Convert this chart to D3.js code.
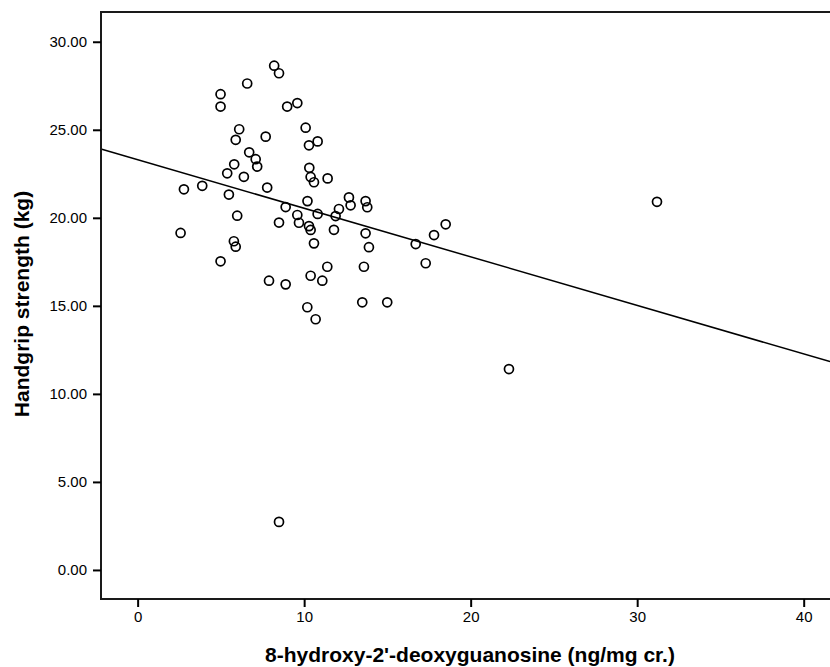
<!DOCTYPE html>
<html>
<head>
<meta charset="utf-8">
<script src="https://cdn.jsdelivr.net/npm/d3@7/dist/d3.min.js"></script>
<style>
  html, body { margin: 0; padding: 0; background: #fff; }
  svg { display: block; }
  text { font-family: "Liberation Sans", Arial, sans-serif; fill: #000; }
</style>
</head>
<body>
<svg id="chart" width="830" height="667"></svg>
<script>
// 8-OHdG (ng/mg cr.) values
const xValues = [
  8.20, 8.49, 6.58, 4.98, 4.98, 8.98, 9.59, 10.09, 6.10, 5.89,
  7.69, 10.81, 10.29, 6.70, 7.09, 7.18, 5.80, 5.38, 6.38, 10.31,
  10.39, 10.59, 11.41, 2.78, 3.88, 5.48, 7.78, 10.20, 12.69, 12.79,
  12.09, 11.89, 11.79, 10.81, 8.89, 9.59, 9.69, 8.49, 10.29, 10.39,
  10.59, 5.98, 2.58, 5.78, 5.89, 4.98, 11.39, 10.39, 11.09, 7.89,
  8.89, 10.19, 10.69, 13.69, 13.79, 13.69, 13.89, 13.59, 13.49, 14.99,
  16.70, 17.80, 18.50, 17.30, 22.30, 8.49, 31.19
];
// Handgrip strength (kg) values
const yValues = [
  28.64, 28.21, 27.63, 27.02, 26.32, 26.32, 26.52, 25.12, 25.03, 24.43,
  24.61, 24.34, 24.12, 23.72, 23.33, 22.91, 23.04, 22.53, 22.33, 22.84,
  22.32, 22.02, 22.24, 21.62, 21.82, 21.32, 21.72, 20.95, 21.16, 20.71,
  20.50, 20.10, 19.32, 20.22, 20.61, 20.16, 19.72, 19.73, 19.53, 19.31,
  18.55, 20.12, 19.14, 18.67, 18.36, 17.53, 17.22, 16.71, 16.43, 16.43,
  16.22, 14.92, 14.24, 20.95, 20.60, 19.12, 18.33, 17.22, 15.20, 15.20,
  18.51, 19.02, 19.63, 17.42, 11.41, 2.73, 20.91
];
const xTicks = [0, 10, 20, 30, 40];
const yTicks = [0, 5, 10, 15, 20, 25, 30];
const xDomain = [-2.2, 41.58];
const yDomain = [-1.65, 31.69];
// fitted linear regression line
const fitIntercept = 23.30;
const fitSlope = -0.2758;
const xTitle = "8-hydroxy-2'-deoxyguanosine (ng/mg cr.)";
const yTitle = "Handgrip strength (kg)";

const points = xValues.map((v, i) => ({ x: v, y: yValues[i] }));

const M = { left: 101, top: 12, right: 830, bottom: 599 };
const svg = d3.select("#chart");

const xs = d3.scaleLinear().domain(xDomain).range([M.left, M.right]);
const ys = d3.scaleLinear().domain(yDomain).range([M.bottom, M.top]);

// regression line
const lineGen = d3.line().x(d => xs(d)).y(d => ys(fitIntercept + fitSlope * d));
svg.append("path")
  .attr("d", lineGen(xDomain))
  .attr("fill", "none")
  .attr("stroke", "#000")
  .attr("stroke-width", 1.5);

// points
svg.append("g").selectAll("circle")
  .data(points)
  .enter().append("circle")
  .attr("cx", d => xs(d.x))
  .attr("cy", d => ys(d.y))
  .attr("r", 4.5)
  .attr("fill", "none")
  .attr("stroke", "#000")
  .attr("stroke-width", 1.7);

// frame (left, top, bottom)
svg.append("path")
  .attr("d", `M${M.right + 2},${M.top} H${M.left} V${M.bottom} H${M.right + 2}`)
  .attr("fill", "none")
  .attr("stroke", "#1a1a1a")
  .attr("stroke-width", 2);

// axes
const xAxis = d3.axisBottom(xs).tickValues(xTicks).tickFormat(d3.format("d")).tickSize(8).tickPadding(4);
const gx = svg.append("g").attr("transform", `translate(0,${M.bottom})`).call(xAxis);
gx.select(".domain").remove();
gx.selectAll(".tick line").attr("stroke", "#000").attr("stroke-width", 2);
gx.selectAll(".tick text").attr("font-size", 15).attr("font-family", "Liberation Sans, Arial, sans-serif").attr("fill", "#000");

const yAxis = d3.axisLeft(ys).tickValues(yTicks).tickFormat(d3.format(".2f")).tickSize(8).tickPadding(6);
const gy = svg.append("g").attr("transform", `translate(${M.left},0)`).call(yAxis);
gy.select(".domain").remove();
gy.selectAll(".tick line").attr("stroke", "#000").attr("stroke-width", 2);
gy.selectAll(".tick text").attr("font-size", 15).attr("font-family", "Liberation Sans, Arial, sans-serif").attr("fill", "#000");

// titles
svg.append("text")
  .attr("x", 470).attr("y", 662)
  .attr("text-anchor", "middle")
  .attr("font-size", 21).attr("font-weight", "bold")
  .text(xTitle);

svg.append("text")
  .attr("transform", "translate(29,304) rotate(-90)")
  .attr("text-anchor", "middle")
  .attr("font-size", 21).attr("font-weight", "bold")
  .text(yTitle);
</script>
</body>
</html>
